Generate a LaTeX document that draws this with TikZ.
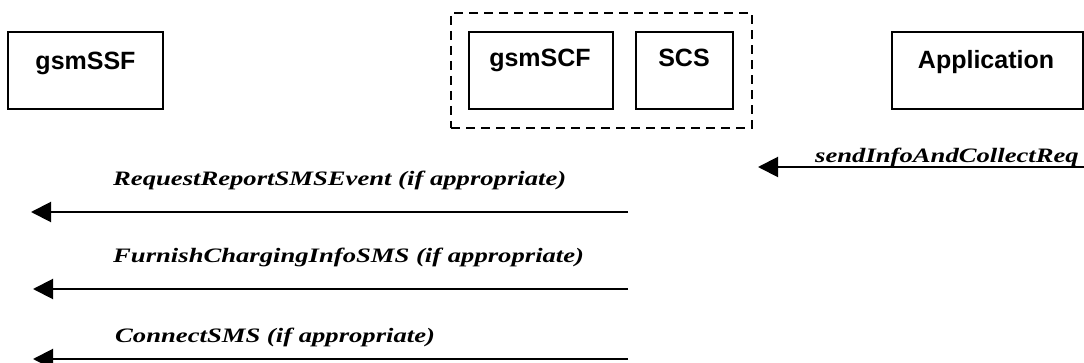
\documentclass[tikz,border=0pt]{standalone}
\usepackage{fontspec}
\setmainfont{Liberation Serif}
\newfontfamily\boxfont{Liberation Sans}
\newfontfamily\msgfont[FakeStretch=1.3]{Liberation Serif}
\usetikzlibrary{arrows.meta}
\tikzset{
  ent/.style={draw, line width=1.5pt, inner sep=0pt},
  entlbl/.style={font=\boxfont\fontsize{25}{30}\selectfont\bfseries, anchor=base, inner sep=0pt},
  msg/.style={font=\msgfont\fontsize{20.5}{24}\selectfont\bfseries\itshape, anchor=base west, inner sep=0pt},
  arr/.style={line width=2pt, -{Triangle[length=20pt,width=20pt]}},
  grp/.style={draw, line width=1.5pt, dash pattern=on 9pt off 6pt, inner sep=0pt}
}
\begin{document}
\begin{tikzpicture}[x=1pt,y=-1pt]
\useasboundingbox (0,0) rectangle (1084,363);
% entities
\node[ent, minimum width=155pt, minimum height=77pt] (ssf) at (85.5,70.5) {};
\node[entlbl] (ssfl) at (85.5,70) {gsmSSF};
\node[ent, minimum width=144pt, minimum height=77pt] (scf) at (541,70.5) {};
\node[entlbl] (scfl) at (540,67) {gsmSCF};
\node[ent, minimum width=97pt, minimum height=77pt] (scs) at (684.5,70.5) {};
\node[entlbl] (scsl) at (684,67) {SCS};
\node[ent, minimum width=191pt, minimum height=77pt] (app) at (987.5,70.5) {};
\node[entlbl] (appl) at (986,69) {Application};
\node[grp, minimum width=301pt, minimum height=115pt] (grp) at (601.5,70.5) {};
% message endpoints
\coordinate (a0s) at (1084,167);
\coordinate (a0e) at (758,167);
\coordinate (a1s) at (628,212);
\coordinate (a1e) at (31,212);
\coordinate (a2s) at (628,289);
\coordinate (a2e) at (33,289);
\coordinate (a3s) at (628,359);
\coordinate (a3e) at (33,359);
\draw[arr] (a0s) -- (a0e);
\draw[arr] (a1s) -- (a1e);
\draw[arr] (a2s) -- (a2e);
\draw[arr] (a3s) -- (a3e);
\node[msg] (m0) at (815,163) {sendInfoAndCollectReq};
\node[msg] (m1) at (113,186) {RequestReportSMSEvent (if appropriate)};
\node[msg] (m2) at (113,263) {FurnishChargingInfoSMS (if appropriate)};
\node[msg] (m3) at (115,342) {ConnectSMS (if appropriate)};
\end{tikzpicture}
\end{document}
